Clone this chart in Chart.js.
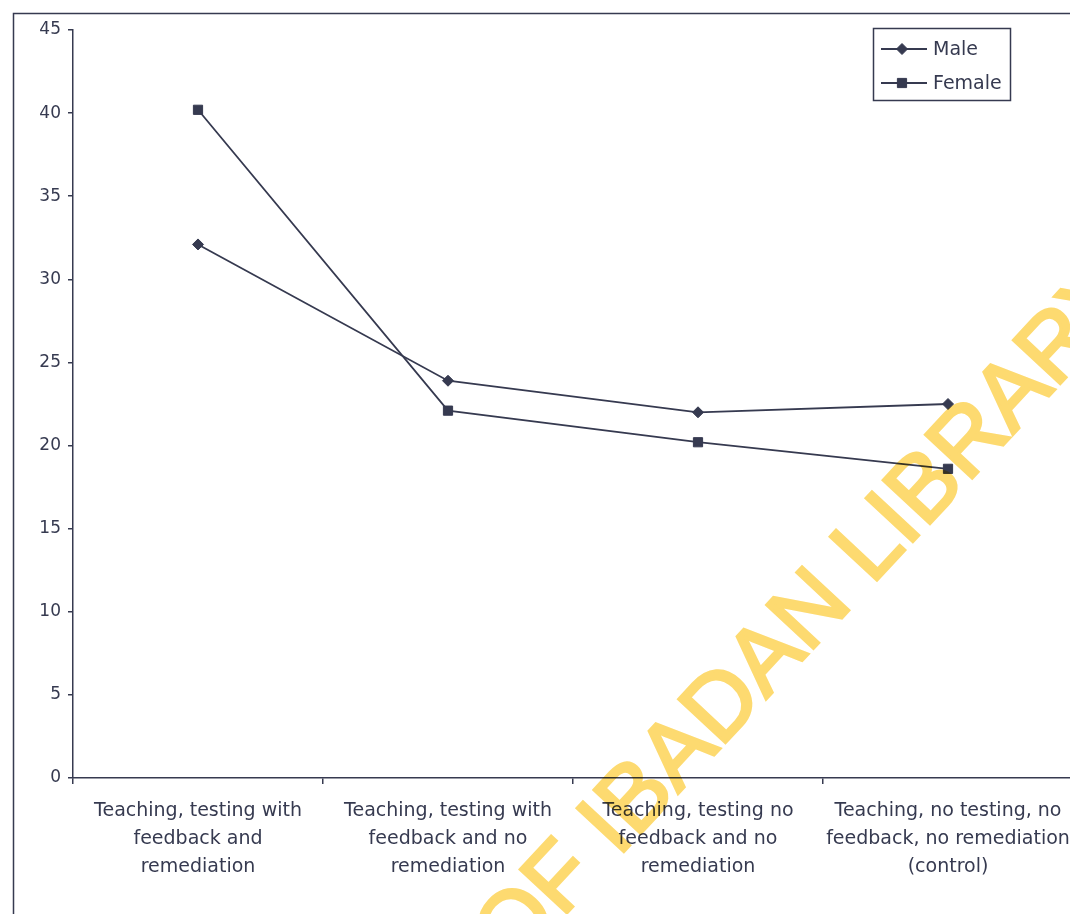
<!DOCTYPE html>
<html><head><meta charset="utf-8">
<script src="https://cdn.jsdelivr.net/npm/chart.js@4.4.0/dist/chart.umd.min.js"></script>
<style>
html,body{margin:0;padding:0;overflow:hidden;background:#fff;}
#wrap{position:relative;width:1100px;height:914px;}
</style></head><body>
<div id="wrap"><canvas id="c"></canvas></div>
<script>
const categories = [
  ['Teaching, testing with', 'feedback and', 'remediation'],
  ['Teaching, testing with', 'feedback and no', 'remediation'],
  ['Teaching, testing no', 'feedback and no', 'remediation'],
  ['Teaching, no testing, no', 'feedback, no remediation', '(control)']
];
const seriesNames = ['Male', 'Female'];
const maleValues = [32.1, 23.9, 22.0, 22.5];
const femaleValues = [40.2, 22.1, 20.2, 18.6];
const yMin = 0, yMax = 45, yStep = 5;
const watermarkText = 'UNIVERSITY OF IBADAN LIBRARY';

const INK = '#363a50';
const FONT = "'DejaVu Sans', 'Liberation Sans', Arial, sans-serif";

const frame = {
  id: 'frame',
  beforeDraw(chart) {
    const ctx = chart.ctx;
    ctx.save();
    ctx.fillStyle = '#ffffff';
    ctx.fillRect(0, 0, chart.width, chart.height);
    ctx.strokeStyle = INK;
    ctx.lineWidth = 1.5;
    ctx.strokeRect(13.5, 13.5, 3000, 3000);
    ctx.restore();
  },
  afterDraw(chart) {
    const ctx = chart.ctx;
    // legend
    ctx.save();
    ctx.strokeStyle = INK;
    ctx.lineWidth = 1.5;
    ctx.strokeRect(873.5, 28.5, 137, 72);
    const rows = [49, 83];
    chart.data.datasets.forEach((ds, i) => {
      const y = rows[i];
      ctx.strokeStyle = ds.borderColor;
      ctx.lineWidth = ds.borderWidth;
      ctx.beginPath(); ctx.moveTo(881, y); ctx.lineTo(927, y); ctx.stroke();
      ctx.fillStyle = ds.pointBackgroundColor;
      ctx.strokeStyle = ds.pointBorderColor;
      ctx.lineWidth = 1;
      Chart.helpers.drawPoint(ctx, {pointStyle: ds.pointStyle, rotation: 0, borderWidth: 1, radius: ds.pointRadius}, 902, y);
      ctx.fillStyle = INK;
      ctx.font = "19px " + FONT;
      ctx.textBaseline = 'alphabetic';
      ctx.textAlign = 'left';
      ctx.fillText(ds.label, 933, y + 6);
    });
    ctx.restore();
    // watermark on offscreen layer, multiplied onto the chart
    const off = document.createElement('canvas');
    off.width = chart.canvas.width; off.height = chart.canvas.height;
    const o = off.getContext('2d');
    o.font = "93px 'Liberation Sans', Arial, sans-serif";
    const pre = o.measureText('UNIVERSITY OF ').width;
    o.translate(618, 858);
    o.rotate(-47 * Math.PI / 180);
    o.fillStyle = 'rgb(253,218,112)';
    o.strokeStyle = 'rgb(253,218,112)';
    o.lineWidth = 3;
    o.lineJoin = 'miter';
    o.textBaseline = 'alphabetic';
    o.fillText(watermarkText, -pre, 0);
    o.strokeText(watermarkText, -pre, 0);
    ctx.save();
    ctx.globalCompositeOperation = 'multiply';
    ctx.drawImage(off, 0, 0);
    ctx.restore();
  }
};

new Chart(document.getElementById('c'), {
  type: 'line',
  data: {
    labels: categories,
    datasets: [
      { label: seriesNames[0], data: maleValues, borderColor: INK, backgroundColor: INK,
        pointBackgroundColor: INK, pointBorderColor: INK, pointStyle: 'rectRot', pointRadius: 5.5,
        pointBorderWidth: 1, borderWidth: 1.8, tension: 0 },
      { label: seriesNames[1], data: femaleValues, borderColor: INK, backgroundColor: INK,
        pointBackgroundColor: INK, pointBorderColor: INK, pointStyle: 'rect', pointRadius: 6.5,
        pointBorderWidth: 1, borderWidth: 1.8, tension: 0 }
    ]
  },
  options: {
    responsive: true,
    maintainAspectRatio: false,
    animation: false,
    devicePixelRatio: 1,
    layout: { padding: { left: 0, top: 30, right: 27, bottom: 0 } },
    plugins: { legend: { display: false }, tooltip: { enabled: false } },
    scales: {
      x: {
        offset: true,
        grid: { display: true, offset: true, drawOnChartArea: false, drawTicks: true, tickLength: 6, color: INK, lineWidth: 1.5 },
        border: { display: true, color: INK, width: 1.5 },
        ticks: { color: INK, padding: 13, maxRotation: 0, autoSkip: false,
                 font: { family: FONT, size: 19, lineHeight: 28 / 19 } },
        afterFit(s) { s.height = 136; }
      },
      y: {
        min: yMin, max: yMax,
        grid: { display: true, drawOnChartArea: false, drawTicks: true, tickLength: 5, color: INK, lineWidth: 1.5 },
        border: { display: true, color: INK, width: 1.5 },
        ticks: { stepSize: yStep, color: INK, padding: 7, font: { family: FONT, size: 17 } },
        afterFit(s) { s.width = 73; }
      }
    }
  },
  plugins: [frame]
});
</script>
</body></html>
